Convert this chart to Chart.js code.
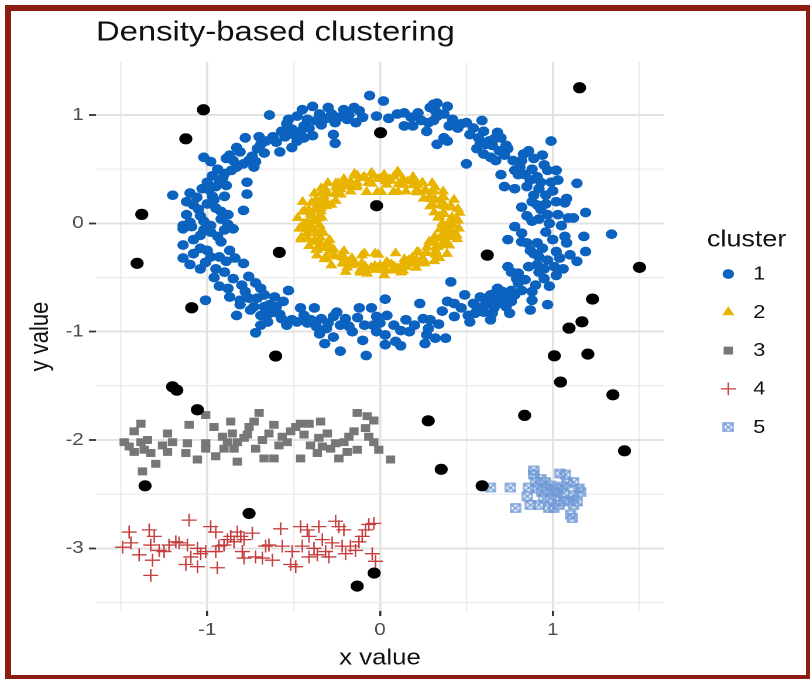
<!DOCTYPE html>
<html>
<head>
<meta charset="utf-8">
<title>Density-based clustering</title>
<script src="https://cdn.jsdelivr.net/npm/chart.js@4.4.1/dist/chart.umd.min.js"></script>
<style>
  html, body { margin: 0; padding: 0; background: #ffffff; }
  body { width: 810px; height: 679px; position: relative; overflow: hidden; }
  /* the figure is laid out on a 692px-wide canvas and widened to the full 810px */
  #stage { position: absolute; left: 0; top: 0; width: 692px; height: 679px;
           transform: scaleX(1.17052); transform-origin: 0 0; }
  #frame { position: absolute; left: 5px; top: 5px; right: 0; bottom: 0;
           border: solid #8b1e10; border-width: 6px 4px 4px 6px; pointer-events: none; }
</style>
</head>
<body>
<div id="stage"><canvas id="chart" width="692" height="679"></canvas></div>
<div id="frame"></div>
<script>
// ---- axes ----
const xLimits = [-1.644, 1.644];
const yLimits = [-3.579, 1.49];
const xBreaks = [-1, 0, 1];
const xTickLabels = ['-1', '0', '1'];
const xMinorBreaks = [-1.5, -0.5, 0.5, 1.5];
const yBreaks = [-3, -2, -1, 0, 1];
const yTickLabels = ['-3', '-2', '-1', '0', '1'];
const yMinorBreaks = [-3.5, -2.5, -1.5, -0.5, 0.5];

// ---- clusters found by DBSCAN ----
const clusterNames = ['1', '2', '3', '4', '5'];

// points left unassigned (noise)
const noisePoints = [
  [1.155, 1.252], [1.502, -0.406], [1.230, -0.699], [1.169, -0.909], [1.094, -0.967],
  [0.621, -0.293], [-1.022, 1.049], [-1.124, 0.781], [0.003, 0.837], [-1.379, 0.083],
  [-0.020, 0.163], [-1.406, -0.369], [-0.583, -0.268], [-1.090, -0.779], [-0.604, -1.225],
  [-1.201, -1.509], [-1.176, -1.540], [-1.057, -1.721], [-1.360, -2.423], [-0.758, -2.678],
  [-0.034, -3.229], [-0.132, -3.349], [1.009, -1.223], [1.203, -1.207], [1.045, -1.465],
  [1.348, -1.583], [0.837, -1.773], [0.279, -1.823], [1.415, -2.100], [0.354, -2.271],
  [0.591, -2.423]
];

// outer ring
const cluster1 = [
  [-0.06,1.18],[-0.39,1.08],[-0.45,1.05],[-0.30,1.07],[-0.21,1.05],[-0.15,1.07],[-0.12,1.04],[-0.02,0.99],
  [-0.64,1.00],[-0.35,1.01],[-0.48,0.99],[-0.42,0.96],[-0.24,0.98],[-0.19,0.96],[-0.14,0.93],[-0.26,0.93],
  [-0.34,0.91],[-0.54,0.92],[-0.57,0.85],[-0.51,0.87],[-0.46,0.85],[-0.41,0.88],[-0.39,0.81],[-0.44,0.79],
  [-0.48,0.76],[-0.51,0.70],[-0.27,0.82],[-0.26,0.74],[-0.78,0.79],[-0.83,0.70],[-0.69,0.73],[-0.71,0.69],
  [-0.60,0.75],[-0.58,0.66],[-0.87,0.63],[-0.81,0.66],[-1.02,0.61],[-0.98,0.57],[-0.89,0.60],[-0.76,0.58],
  [-0.72,0.57],[-0.73,0.52],[-0.79,0.55],[-0.86,0.49],[-0.90,0.46],[-0.93,0.40],[-0.95,0.34],[-1.03,0.32],
  [-0.99,0.31],[-0.89,0.35],[-0.91,0.42],[-0.77,0.38],[-1.20,0.26],[-1.10,0.28],[-1.12,0.20],[-1.08,0.17],
  [-1.05,0.13],[-0.97,0.25],[-0.96,0.22],[-0.90,0.25],[-0.77,0.27],[-0.92,0.11],[-0.79,0.12],[-0.88,0.08],
  [-1.10,0.01],[-1.02,0.02],[-1.14,-0.02],[-0.88,-0.01],[-0.92,0.04],
  [-0.70,0.80],[-0.66,0.76],[-0.62,0.80],[-0.55,0.80],[-0.50,0.82],[-0.44,0.90],[-0.37,0.95],[-0.31,0.97],
  [-0.28,1.01],[-0.18,1.00],[-0.10,0.98],[-0.53,0.96],[-0.85,0.58],[-0.83,0.52],[-0.94,0.50],[-0.97,0.44],
  [-1.00,0.38],[-1.06,0.24],[-1.00,0.18],[-0.95,0.14],[-1.12,0.08],[-1.04,0.07],[-0.98,-0.02],[-0.67,0.65],
  [-0.74,0.62],
  [0.02,1.13],[0.10,1.01],[0.14,1.02],[0.18,0.98],[0.21,0.99],[0.22,1.02],[0.29,1.07],[0.31,1.10],
  [0.33,1.11],[0.32,1.04],[0.39,1.08],[0.37,1.01],[0.33,0.99],[0.28,0.93],[0.42,0.96],[0.40,0.90],
  [0.14,0.90],[0.19,0.90],[0.27,0.85],[0.33,0.73],[0.37,0.79],[0.39,0.76],[0.47,0.92],[0.50,0.93],
  [0.54,0.88],[0.59,0.95],[0.60,0.85],[0.57,0.79],[0.63,0.76],[0.68,0.84],[0.70,0.79],[0.65,0.72],
  [0.61,0.73],[0.73,0.72],[0.74,0.69],[0.69,0.67],[0.56,0.69],[0.60,0.64],[0.64,0.61],[0.67,0.58],
  [0.50,0.55],[0.83,0.64],[0.86,0.67],[0.82,0.58],[0.81,0.52],[0.78,0.49],[0.89,0.60],[0.94,0.63],
  [0.99,0.76],[0.95,0.54],[0.97,0.49],[1.02,0.49],[1.03,0.40],[0.99,0.38],[1.14,0.37],[0.70,0.45],
  [0.72,0.34],[0.78,0.32],[0.84,0.45],[0.87,0.40],[0.91,0.43],[0.93,0.38],[0.85,0.34],[0.89,0.26],
  [0.96,0.26],[0.88,0.20],[0.91,0.17],[0.93,0.13],[0.82,0.15],[0.85,0.07],[0.92,0.04],[0.97,0.08],
  [1.03,0.08],[1.08,0.23],[1.07,0.19],[1.09,0.05],[1.12,0.05],[1.19,0.10],
  [0.05,0.97],[0.24,0.95],[0.31,0.95],[0.45,0.88],[0.52,0.82],[0.58,0.74],[0.66,0.78],[0.72,0.63],
  [0.77,0.58],[0.80,0.45],[0.88,0.50],[0.92,0.32],[1.00,0.30],[1.02,0.20],[0.96,0.18],[0.98,0.00],
  [1.05,-0.02],[0.88,0.02],[0.82,-0.09],[0.96,-0.08],
  [-1.14,-0.05],[-1.09,-0.03],[-1.02,-0.06],[-0.98,-0.08],[-0.90,-0.06],[-0.85,-0.05],[-1.04,-0.11],[-0.94,-0.12],
  [-0.92,-0.17],[-1.14,-0.20],[-1.08,-0.15],[-1.04,-0.23],[-1.00,-0.25],[-1.08,-0.28],[-1.14,-0.32],[-0.98,-0.31],
  [-0.93,-0.31],[-0.87,-0.25],[-0.89,-0.35],[-0.84,-0.32],[-0.79,-0.37],[-0.95,-0.42],[-1.04,-0.42],[-0.85,-0.51],
  [-0.76,-0.49],[-0.80,-0.57],[-0.72,-0.55],[-0.69,-0.60],[-0.93,-0.58],[-0.87,-0.68],[-0.81,-0.71],[-0.76,-0.69],
  [-0.71,-0.69],[-0.67,-0.66],[-0.61,-0.68],[-0.53,-0.62],[-1.01,-0.71],[-0.81,-0.75],[-0.73,-0.77],[-0.67,-0.77],
  [-0.64,-0.75],[-0.60,-0.77],[-0.83,-0.85],[-0.69,-0.85],[-0.64,-0.83],[-0.62,-0.82],[-0.65,-0.91],[-0.54,-0.94],
  [-0.51,-0.89],[-0.46,-0.78],[-0.48,-0.91],[-0.42,-0.92],[-0.38,-0.78],[-0.40,-0.89],[-0.34,-0.88],[-0.37,-0.95],
  [-0.35,-1.02],[-0.31,-0.97],[-0.27,-0.86],[-0.25,-0.82],[-0.23,-0.94],[-0.27,-1.05],[-0.20,-0.88],[-0.16,-1.00],
  [-0.12,-0.78],[-0.09,-0.94],[-0.05,-0.78],[-0.04,-0.94],[-0.10,-1.08],[-0.32,-1.11],[-0.23,-1.18],[-0.08,-1.22],
  [-0.72,-1.01],
  [-1.10,-0.38],[-1.01,-0.36],[-0.96,-0.50],[-0.90,-0.45],[-0.88,-0.60],[-0.78,-0.63],[-0.75,-0.80],[-0.69,-0.94],
  [-0.57,-0.88],[-0.58,-0.84],[-0.56,-0.72],[-0.44,-0.85],[-0.30,-0.92],[-0.18,-0.95],[-0.13,-0.87],[-0.02,-0.86],
  [0.78,-0.03],[0.74,-0.15],[0.82,-0.17],[0.85,-0.18],[0.91,-0.18],[0.94,-0.23],[0.87,-0.25],[0.89,-0.28],
  [1.00,-0.15],[1.07,-0.12],[1.08,-0.18],[1.18,-0.12],[1.34,-0.10],[1.02,-0.26],[1.10,-0.29],[1.19,-0.26],
  [1.14,-0.35],[0.92,-0.31],[0.91,-0.38],[0.95,-0.42],[1.01,-0.40],[1.06,-0.42],[1.02,-0.48],[0.74,-0.40],
  [0.76,-0.45],[0.80,-0.46],[0.86,-0.40],[0.79,-0.51],[0.92,-0.45],[0.95,-0.51],[0.90,-0.57],[0.88,-0.63],
  [0.82,-0.62],[0.76,-0.62],[0.71,-0.63],[0.66,-0.65],[0.64,-0.66],[0.64,-0.72],[0.69,-0.71],[0.74,-0.68],
  [0.76,-0.72],[0.73,-0.77],[0.66,-0.78],[0.61,-0.75],[0.88,-0.71],[0.87,-0.80],[0.97,-0.75],[0.75,-0.83],
  [0.65,-0.83],[0.58,-0.68],[0.54,-0.74],[0.49,-0.66],[0.41,-0.54],[0.39,-0.72],[0.43,-0.74],[0.36,-0.81],
  [0.51,-0.85],[0.55,-0.83],[0.60,-0.82],[0.52,-0.91],[0.64,-0.89],[0.23,-0.74],[0.03,-0.70],[0.04,-0.85],
  [0.00,-0.92],[0.03,-1.03],[-0.02,-1.00],[0.12,-0.99],[0.15,-0.89],[0.17,-1.00],[0.25,-0.88],[0.29,-0.89],
  [0.28,-0.97],[0.27,-1.03],[0.32,-1.06],[0.38,-1.06],[0.26,-1.11],[0.09,-1.09],[0.12,-1.13],[0.03,-1.12],
  [0.70,-0.66],[0.72,-0.70],[0.67,-0.69],[0.78,-0.66],[0.71,-0.74],
  [0.08,-0.94],[0.20,-0.94],[0.34,-0.93],[0.43,-0.86],[0.47,-0.78],[0.56,-0.77],[0.62,-0.70],[0.68,-0.60],
  [0.80,-0.55],[0.84,-0.52],[0.98,-0.58],[1.04,-0.32],[0.97,-0.34]
];

// inner ring
const cluster2 = [
  [0.36,0.00],[0.449,0.024],[0.418,0.044],[0.336,0.053],[0.460,0.098],[0.367,0.098],[0.314,0.102],[0.411,0.158],
  [0.366,0.163],[0.428,0.218],[0.303,0.175],[0.369,0.240],[0.316,0.229],[0.365,0.296],[0.253,0.228],[0.304,0.304],
  [0.268,0.297],[0.302,0.373],[0.212,0.291],[0.245,0.377],[0.205,0.355],[0.150,0.294],[0.191,0.429],[0.136,0.355],
  [0.133,0.409],[0.078,0.290],[0.102,0.479],[0.063,0.395],[0.038,0.358],[0.024,0.449],[0.00,0.41],[-0.015,0.290],
  [-0.049,0.467],[-0.061,0.385],[-0.091,0.430],[-0.078,0.290],[-0.148,0.457],[-0.133,0.345],[-0.171,0.384],[-0.209,0.410],
  [-0.170,0.294],[-0.240,0.369],[-0.229,0.316],[-0.302,0.373],[-0.241,0.268],[-0.318,0.318],[-0.305,0.274],[-0.256,0.208],
  [-0.380,0.276],[-0.319,0.207],[-0.372,0.215],[-0.312,0.159],[-0.448,0.199],[-0.373,0.143],[-0.342,0.111],[-0.435,0.116],
  [-0.401,0.085],[-0.336,0.053],[-0.477,0.050],[-0.379,0.020],[-0.44,0.00],[-0.350,-0.018],[-0.467,-0.049],[-0.385,-0.061],
  [-0.421,-0.089],[-0.328,-0.088],[-0.457,-0.148],[-0.345,-0.133],[-0.384,-0.171],[-0.410,-0.209],[-0.303,-0.175],[-0.369,-0.240],
  [-0.316,-0.229],[-0.365,-0.296],[-0.268,-0.241],[-0.318,-0.318],[-0.274,-0.305],[-0.208,-0.256],[-0.282,-0.388],[-0.207,-0.319],
  [-0.215,-0.372],[-0.163,-0.321],[-0.199,-0.448],[-0.143,-0.373],[-0.090,-0.276],[-0.116,-0.435],[-0.085,-0.401],[-0.074,-0.464],
  [-0.029,-0.278],[-0.023,-0.429],[0.00,-0.39],[0.025,-0.479],[0.038,-0.358],[0.069,-0.435],[0.085,-0.401],[0.122,-0.454],
  [0.090,-0.276],[0.154,-0.401],[0.159,-0.356],[0.209,-0.410],[0.185,-0.320],[0.240,-0.369],[0.241,-0.332],[0.214,-0.264],
  [0.314,-0.349],[0.269,-0.269],[0.320,-0.288],[0.272,-0.220],[0.388,-0.282],[0.335,-0.218],[0.312,-0.180],[0.401,-0.204],
  [0.384,-0.171],[0.317,-0.122],[0.447,-0.145],[0.367,-0.098],[0.421,-0.089],[0.346,-0.055],[0.457,-0.048],[0.399,-0.021],
  [0.400,0.012],[0.416,0.055],[0.372,0.086],[0.415,0.147],[0.352,0.168],[0.350,0.214],[0.294,0.225],[0.312,0.296],
  [0.260,0.304],[0.215,0.313],[0.191,0.352],[0.161,0.388],[0.108,0.364],[0.080,0.433],[0.031,0.389],[-0.011,0.410],
  [-0.048,0.367],[-0.100,0.418],[-0.134,0.377],[-0.164,0.343],[-0.209,0.341],[-0.256,0.333],[-0.262,0.276],[-0.335,0.286],
  [-0.321,0.221],[-0.360,0.196],[-0.342,0.142],[-0.412,0.122],[-0.393,0.073],[-0.379,0.030],[-0.402,-0.012],[-0.418,-0.052],
  [-0.368,-0.092],[-0.417,-0.141],[-0.355,-0.163],[-0.348,-0.218],[-0.296,-0.222],[-0.310,-0.299],[-0.262,-0.301],[-0.218,-0.310],
  [-0.188,-0.355],[-0.163,-0.386],[-0.105,-0.366],[-0.083,-0.430],[-0.029,-0.392],[0.013,-0.412],[0.046,-0.369],[0.102,-0.416],
  [0.131,-0.379],[0.167,-0.341],[0.212,-0.338],[0.253,-0.336],[0.265,-0.273],[0.331,-0.289],[0.325,-0.218],[0.357,-0.199],
  [0.345,-0.139],[0.409,-0.125],[0.396,-0.070],[0.381,-0.033],
  [0.449,0.035],[0.344,0.064],[0.451,0.133],[0.379,0.157],[0.290,0.157],[0.363,0.249],[0.289,0.247],[0.317,0.334],
  [0.219,0.286],[0.219,0.358],[0.194,0.406],[0.103,0.292],[0.110,0.457],[0.054,0.406],[0.008,0.290],[-0.035,0.439],
  [-0.069,0.374],[-0.131,0.441],[-0.138,0.333],[-0.200,0.369],[-0.255,0.371],[-0.227,0.266],[-0.341,0.324],[-0.325,0.250],
  [-0.281,0.172],[-0.397,0.189],[-0.358,0.127],[-0.447,0.107],[-0.357,0.047],[-0.420,0.011],[-0.452,-0.031],[-0.341,-0.066],
  [-0.455,-0.128],[-0.377,-0.160],[-0.292,-0.152],[-0.366,-0.246],[-0.285,-0.251],[-0.321,-0.331],[-0.222,-0.283],[-0.216,-0.361],
  [-0.190,-0.409],[-0.105,-0.295],[-0.113,-0.455],[-0.051,-0.409],[-0.010,-0.288],[0.038,-0.436],[0.066,-0.377],[0.134,-0.438],
  [0.141,-0.330],[0.196,-0.372],[0.258,-0.368],[0.224,-0.269],[0.344,-0.321],[0.322,-0.253],[0.284,-0.170],[0.394,-0.192],
  [0.361,-0.124],[0.444,-0.110],[0.354,-0.050],[0.424,-0.014]
];

// lower band around y = -2
const cluster3 = [
  [-1.384,-1.85],[-1.423,-1.92],[-1.481,-2.02],[-1.452,-2.06],[-1.423,-2.11],[-1.384,-2.02],[-1.346,-2.00],[-1.365,-2.09],
  [-1.327,-2.12],[-1.298,-2.22],[-1.375,-2.29],[-1.259,-2.05],[-1.230,-1.94],[-1.201,-2.02],[-1.230,-2.11],[-1.105,-1.86],
  [-1.115,-2.03],[-1.124,-2.12],[-1.057,-2.18],[-1.009,-1.77],[-1.009,-2.03],[-1.009,-2.08],[-0.961,-1.88],[-0.951,-2.15],
  [-0.912,-1.97],[-0.903,-2.08],[-0.883,-2.02],[-0.864,-1.83],[-0.855,-1.94],[-0.845,-2.08],[-0.826,-2.20],[-0.826,-2.02],
  [-0.787,-1.98],[-0.768,-1.95],[-0.758,-1.88],[-0.729,-1.83],[-0.700,-1.75],[-0.720,-2.08],[-0.681,-2.00],[-0.671,-2.17],
  [-0.643,-1.94],[-0.614,-2.17],[-0.614,-1.86],[-0.585,-2.05],[-0.566,-1.97],[-0.537,-2.02],[-0.517,-1.92],[-0.488,-1.88],
  [-0.460,-1.85],[-0.440,-1.95],[-0.411,-1.85],[-0.460,-2.17],[-0.402,-2.05],[-0.363,-2.12],[-0.354,-1.98],[-0.344,-1.83],
  [-0.305,-1.94],[-0.286,-2.08],[-0.238,-2.17],[-0.209,-2.02],[-0.190,-2.11],[-0.151,-1.92],[-0.132,-1.75],[-0.132,-2.09],
  [-0.074,-1.78],[-0.036,-1.82],[-0.084,-1.89],[-0.065,-1.97],[-0.036,-2.02],[-0.007,-2.09],[0.061,-2.18],[-0.180,-1.97],
  [-0.257,-2.03],[-0.334,-2.06]
];

// band around y = -3
const cluster4 = [
  [-1.452,-2.85],[-1.490,-2.99],[-1.442,-2.95],[-1.394,-3.06],[-1.336,-2.83],[-1.327,-2.97],[-1.307,-2.89],[-1.317,-3.11],
  [-1.327,-3.25],[-1.278,-3.02],[-1.250,-3.03],[-1.221,-2.97],[-1.182,-2.94],[-1.163,-2.95],[-1.105,-2.74],[-1.115,-2.97],
  [-1.124,-3.15],[-1.057,-3.17],[-1.057,-3.00],[-1.038,-3.05],[-1.009,-3.03],[-0.980,-2.80],[-0.951,-2.85],[-0.951,-3.03],
  [-0.942,-3.18],[-0.903,-2.97],[-0.883,-2.92],[-0.864,-2.89],[-0.845,-2.94],[-0.806,-2.89],[-0.826,-2.85],[-0.787,-2.92],
  [-0.797,-3.03],[-0.787,-3.09],[-0.739,-2.86],[-0.720,-3.08],[-0.681,-3.09],[-0.643,-2.97],[-0.623,-3.11],[-0.575,-2.82],
  [-0.566,-2.98],[-0.508,-3.03],[-0.517,-3.15],[-0.488,-3.17],[-0.460,-2.80],[-0.450,-2.98],[-0.421,-2.83],[-0.411,-2.89],
  [-0.411,-3.08],[-0.382,-3.00],[-0.354,-2.80],[-0.334,-2.92],[-0.315,-3.03],[-0.277,-2.95],[-0.257,-2.75],[-0.238,-2.80],
  [-0.209,-2.83],[-0.219,-2.98],[-0.199,-3.05],[-0.171,-2.98],[-0.142,-3.02],[-0.122,-2.94],[-0.103,-2.89],[-0.084,-2.83],
  [-0.065,-2.78],[-0.036,-2.77],[-0.045,-3.05],[-0.026,-3.12],[-0.296,-3.08],[-0.363,-3.06],[-0.662,-2.98],[-0.932,-2.98],
  [-1.095,-3.08]
];

// small blob near (1, -2.5)
const cluster5 = [
  [0.640,-2.44],[0.755,-2.44],[0.784,-2.63],[0.861,-2.44],[0.890,-2.28],[0.890,-2.32],[0.852,-2.52],[0.871,-2.60],
  [0.919,-2.60],[0.900,-2.39],[0.929,-2.36],[0.958,-2.39],[0.967,-2.45],[0.938,-2.48],[0.987,-2.42],[1.006,-2.48],
  [1.025,-2.52],[1.044,-2.31],[1.073,-2.32],[1.054,-2.43],[1.083,-2.40],[1.121,-2.39],[1.150,-2.45],[1.160,-2.48],
  [1.121,-2.51],[1.092,-2.56],[1.064,-2.57],[1.035,-2.60],[1.006,-2.63],[0.977,-2.63],[1.121,-2.60],[1.102,-2.69],
  [1.112,-2.72],[0.948,-2.54],[0.987,-2.54],[1.025,-2.45],[1.064,-2.49],[0.909,-2.45],[1.141,-2.57]
];

// ---- drawing ----
const FONT = "'Liberation Sans', Arial, Helvetica, sans-serif";
const toXY = pts => pts.map(p => ({ x: p[0], y: p[1] }));

// square with a diagonal cross inside
function boxCross(color, size) {
  const c = document.createElement('canvas');
  c.width = size; c.height = size;
  const g = c.getContext('2d');
  g.strokeStyle = color;
  g.lineWidth = 1.4;
  const a = 1, b = size - 1;
  g.strokeRect(a, a, b - a, b - a);
  g.beginPath();
  g.moveTo(a, a); g.lineTo(b, b);
  g.moveTo(b, a); g.lineTo(a, b);
  g.stroke();
  return c;
}

const clusterStyles = [
  { color: '#0b62bf', pointStyle: 'circle', radius: 4.9, borderWidth: 0 },
  { color: '#e8b400', pointStyle: 'triangle', radius: 6.0, borderWidth: 0 },
  { color: '#777777', pointStyle: 'rect', radius: 5.6, borderWidth: 0 },
  { color: '#c53d3d', pointStyle: 'cross', radius: 6.4, borderWidth: 1.3 },
  { color: '#6f9ad6', pointStyle: boxCross('#6f9ad6', 10), radius: 5, borderWidth: 0 }
];
const clusterData = [cluster1, cluster2, cluster3, cluster4, cluster5];

const datasets = [{
  label: 'noise', inLegend: false,
  data: toXY(noisePoints),
  backgroundColor: '#000000', borderColor: '#000000',
  pointStyle: 'circle', pointRadius: 5.6, borderWidth: 0
}];
clusterNames.forEach((name, i) => {
  const s = clusterStyles[i];
  datasets.push({
    label: name, inLegend: true,
    data: toXY(clusterData[i]),
    backgroundColor: s.color, borderColor: s.color,
    pointStyle: s.pointStyle, pointRadius: s.radius, borderWidth: s.borderWidth
  });
});

// legend on the right with the "cluster" heading
const clusterLegend = {
  id: 'clusterLegend',
  afterDraw(chart, args, opts) {
    const ctx = chart.ctx;
    const drawPoint = Chart.helpers && Chart.helpers.drawPoint;
    ctx.save();
    ctx.fillStyle = opts.titleColor;
    ctx.font = opts.titleSize + 'px ' + FONT;
    ctx.textAlign = 'left';
    ctx.textBaseline = 'alphabetic';
    ctx.fillText(opts.title, opts.titleX, opts.titleBaseline);
    chart.data.datasets.filter(d => d.inLegend).forEach((ds, i) => {
      const y = opts.firstY + i * opts.step;
      ctx.fillStyle = ds.backgroundColor;
      ctx.strokeStyle = ds.borderColor;
      ctx.lineWidth = ds.borderWidth;
      if (drawPoint) {
        drawPoint(ctx, { pointStyle: ds.pointStyle, radius: ds.pointRadius,
                         borderWidth: ds.borderWidth, rotation: 0 }, opts.symbolX, y);
      }
      ctx.fillStyle = opts.labelColor;
      ctx.font = opts.labelSize + 'px ' + FONT;
      ctx.textBaseline = 'middle';
      ctx.fillText(ds.label, opts.labelX, y + 0.5);
    });
    ctx.restore();
  }
};

const isIn = (arr, v) => arr.some(b => Math.abs(b - v) < 1e-9);
const gridFor = (breaks, tickLen, majorW) => ({
  color: c => isIn(breaks, c.tick.value) ? '#e2e2e2' : '#ebebeb',
  lineWidth: c => isIn(breaks, c.tick.value) ? majorW : 1.2,
  tickColor: c => isIn(breaks, c.tick.value) ? '#333333' : 'rgba(0,0,0,0)',
  tickWidth: c => isIn(breaks, c.tick.value) ? 1.8 : 0,
  tickLength: tickLen,
  drawTicks: true
});
const labelFor = (breaks, labels) => v => {
  const i = breaks.findIndex(b => Math.abs(b - v) < 1e-9);
  return i >= 0 ? labels[i] : '';
};

Chart.defaults.font.family = FONT;

new Chart(document.getElementById('chart'), {
  type: 'scatter',
  data: { datasets },
  plugins: [clusterLegend],
  options: {
    responsive: false,
    devicePixelRatio: 2,
    animation: false,
    events: [],
    layout: { padding: { left: 0, right: 124.7, top: 0, bottom: 0 } },
    plugins: {
      legend: { display: false },
      tooltip: { enabled: false },
      title: {
        display: true, text: 'Density-based clustering', align: 'start', fullSize: false,
        color: '#111111', font: { size: 28, weight: 'normal', lineHeight: 1.2 },
        padding: { top: 16.2, bottom: 12.2 }
      },
      clusterLegend: {
        title: 'cluster', titleSize: 23, titleColor: '#111111', titleX: 604, titleBaseline: 246.7,
        symbolX: 622.2, labelX: 643.5, firstY: 274, step: 38.3, labelSize: 18.5, labelColor: '#111111'
      }
    },
    scales: {
      x: {
        type: 'linear', min: xLimits[0], max: xLimits[1],
        afterBuildTicks: s => { s.ticks = [...xBreaks, ...xMinorBreaks].sort((a, b) => a - b).map(v => ({ value: v })); },
        afterFit: s => { s.height = 68; },
        ticks: { autoSkip: false, maxRotation: 0, padding: 3.8, color: '#4d4d4d', font: { size: 17.5 },
                 callback: labelFor(xBreaks, xTickLabels) },
        grid: gridFor(xBreaks, 5, 1.8),
        border: { display: false },
        title: { display: true, text: 'x value', color: '#111111', font: { size: 22 }, padding: { top: 0, bottom: 7.5 } }
      },
      y: {
        type: 'linear', min: yLimits[0], max: yLimits[1],
        afterBuildTicks: s => { s.ticks = [...yBreaks, ...yMinorBreaks].sort((a, b) => a - b).map(v => ({ value: v })); },
        afterFit: s => { s.width = 82; },
        ticks: { autoSkip: false, padding: 4.5, color: '#4d4d4d', font: { size: 17.5 },
                 callback: labelFor(yBreaks, yTickLabels) },
        grid: gridFor(yBreaks, 6, 2),
        border: { display: false },
        title: { display: true, text: 'y value', color: '#111111', font: { size: 22 }, padding: { top: 21.8, bottom: 0 } }
      }
    }
  }
});
</script>
</body>
</html>
